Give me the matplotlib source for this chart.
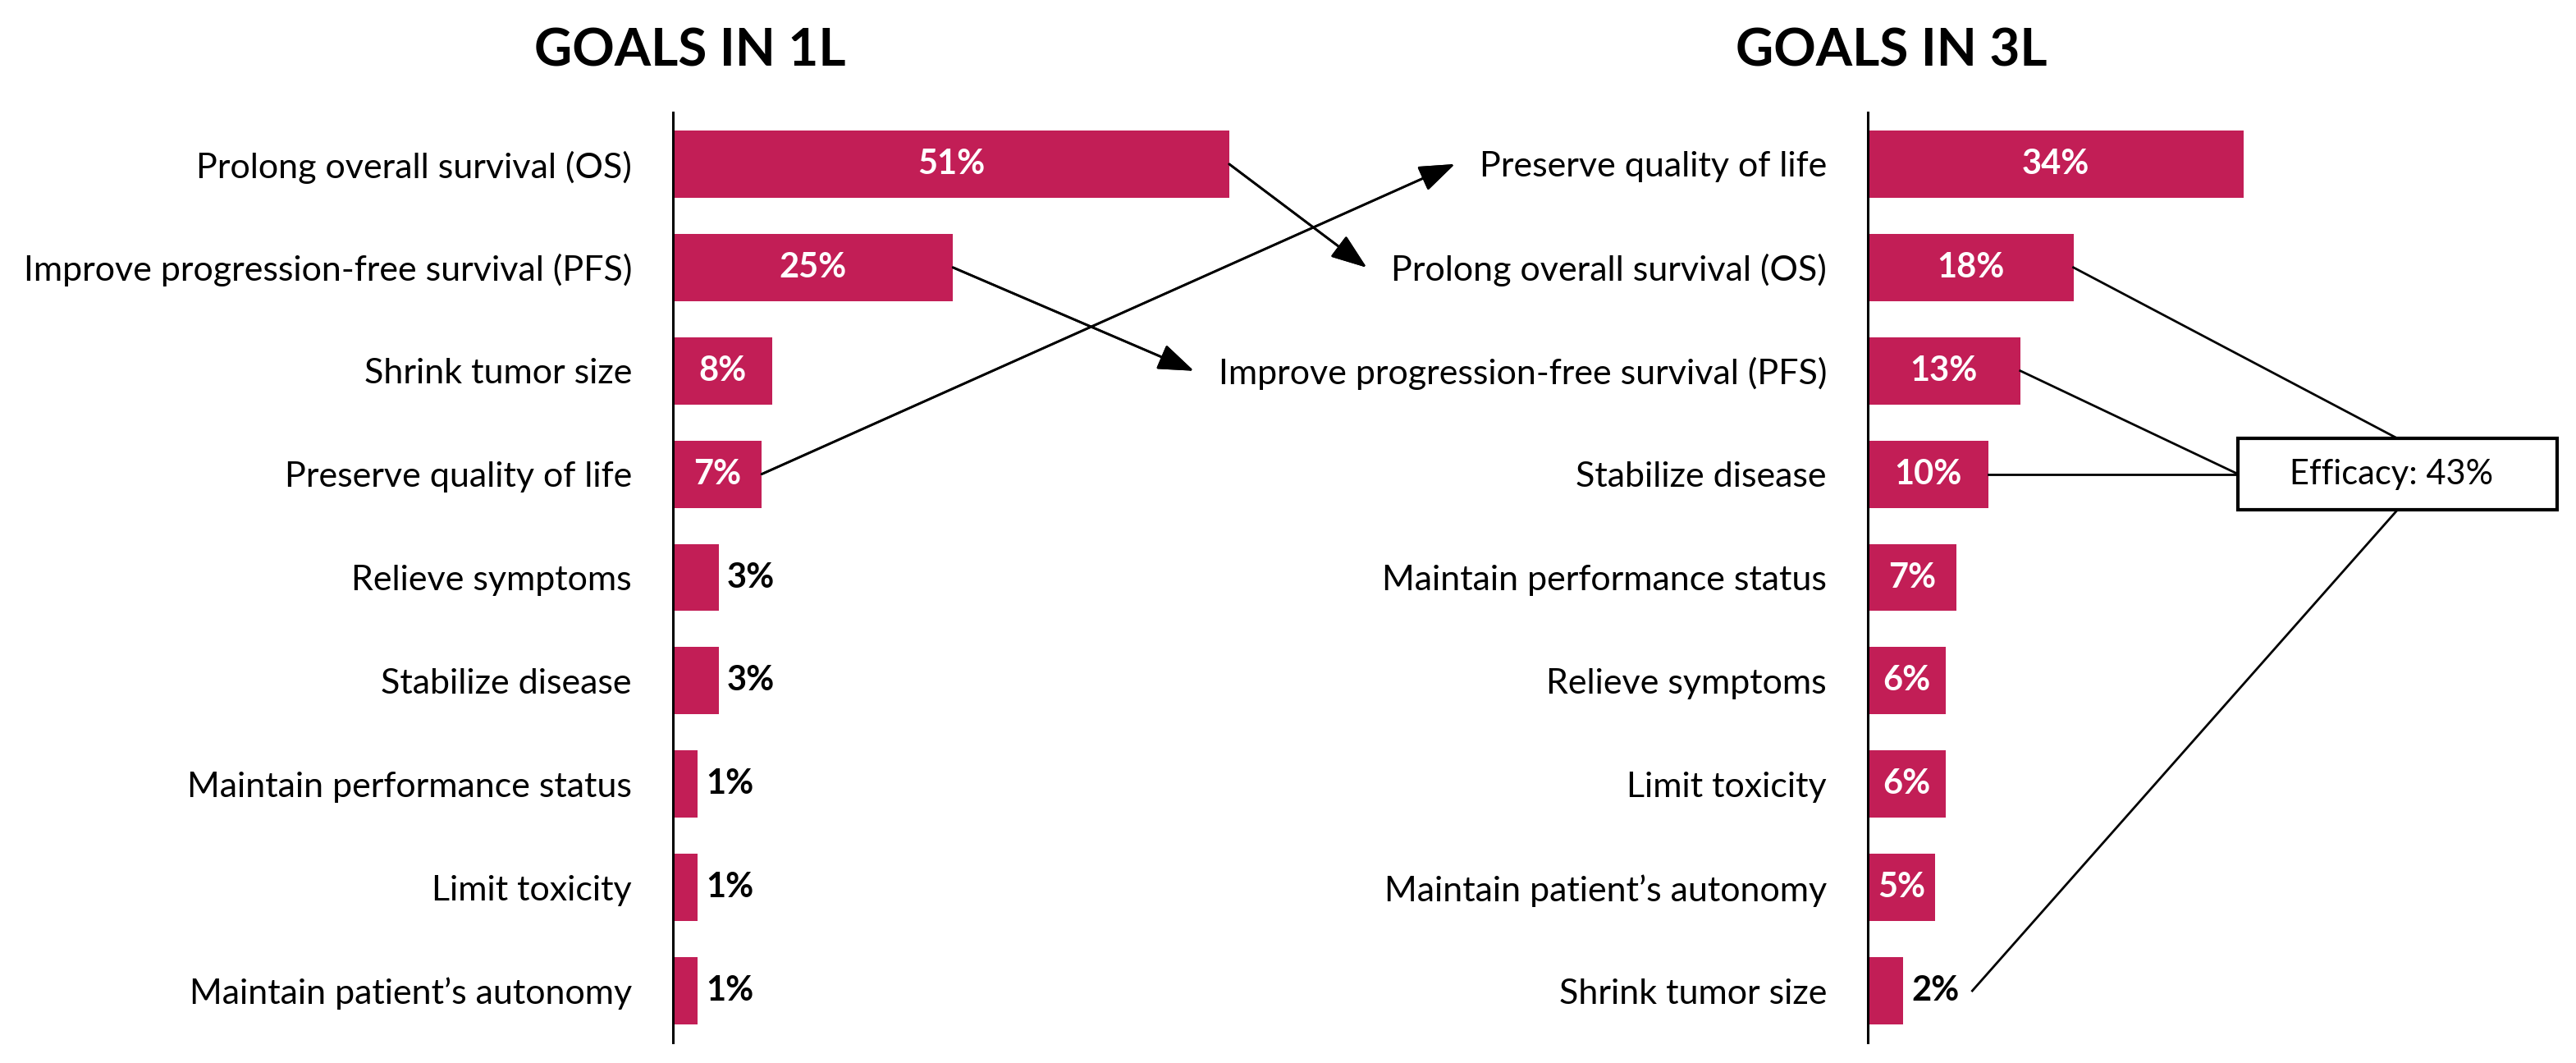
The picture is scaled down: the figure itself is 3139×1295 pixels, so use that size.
import matplotlib
matplotlib.use("Agg")
import matplotlib.pyplot as plt
from matplotlib.patches import Rectangle

# data
goals_1l = ["Prolong overall survival (OS)", "Improve progression-free survival (PFS)",
            "Shrink tumor size", "Preserve quality of life", "Relieve symptoms",
            "Stabilize disease", "Maintain performance status", "Limit toxicity",
            "Maintain patient\u2019s autonomy"]
pct_1l = [51, 25, 8, 7, 3, 3, 1, 1, 1]

goals_3l = ["Preserve quality of life", "Prolong overall survival (OS)",
            "Improve progression-free survival (PFS)", "Stabilize disease",
            "Maintain performance status", "Relieve symptoms", "Limit toxicity",
            "Maintain patient\u2019s autonomy", "Shrink tumor size"]
pct_3l = [34, 18, 13, 10, 7, 6, 6, 5, 2]

efficacy_label = "Efficacy: 43%"
efficacy_items = ["Prolong overall survival (OS)", "Improve progression-free survival (PFS)",
                  "Stabilize disease", "Shrink tumor size"]

BAR = "#C21E56"
plt.rcParams["font.family"] = ["Lato", "DejaVu Sans"]

W, H = 3139, 1295
fig = plt.figure(figsize=(W / 100, H / 100), dpi=100)

px_per_pct = 12.95
xmin, xmax = -1.35, 65
ax_w = (xmax - xmin) * px_per_pct / W
ax_b = 1 - 1270 / H
ax_h = 1133 / H
ax1 = fig.add_axes([820 / W, ax_b, ax_w, ax_h])
ax2 = fig.add_axes([2276 / W, ax_b, ax_w, ax_h])


def draw_panel(ax, labels, vals, title, title_x):
    y = list(range(len(labels)))
    # bars start at the axis line (Excel-style axis slightly below zero)
    ax.barh(y, [v - xmin for v in vals], left=xmin, height=0.65, color=BAR, clip_on=False)
    ax.set_xlim(xmin, xmax)
    ax.set_ylim(len(labels) - 0.5, -0.5)
    ax.set_yticks(y)
    ax.set_yticklabels(labels, fontsize=31)
    ax.tick_params(axis="y", length=0, pad=36)
    ax.set_xticks([])
    for s in ["top", "right", "bottom"]:
        ax.spines[s].set_visible(False)
    ax.spines["left"].set_linewidth(2.2)
    texts = []
    for yi, v in zip(y, vals):
        if v >= 4:
            t = ax.text((v + xmin) / 2, yi, f"{v}%", ha="center", va="center", color="white",
                        fontsize=30, fontweight="bold")
        else:
            t = ax.text(v + 0.75, yi, f"{v}%", ha="left", va="center", color="black",
                        fontsize=30, fontweight="bold", clip_on=False)
        texts.append(t)
    fig.text(title_x / W, 1 - 62 / H, title, ha="center", va="center",
             fontsize=46, fontweight="bold")
    return texts


lab1 = draw_panel(ax1, goals_1l, pct_1l, "GOALS IN 1L", 841)
lab2 = draw_panel(ax2, goals_3l, pct_3l, "GOALS IN 3L", 2305)

fig.canvas.draw()
renderer = fig.canvas.get_renderer()

# arrows from 1L bars to the same goal in 3L
ticklabels2 = ax2.get_yticklabels()
for i, name in enumerate(goals_1l):
    if name not in goals_3l[:3]:
        continue
    j = goals_3l.index(name)
    bb = ticklabels2[j].get_window_extent(renderer)
    row_y = ax2.transData.transform((0, j))[1]
    tip = (bb.x0 - 30, row_y)
    start = ax1.transData.transform((pct_1l[i], i))
    fig.add_artist(plt.annotate("", xy=tip, xycoords="figure pixels",
                                xytext=start, textcoords="figure pixels",
                                arrowprops=dict(arrowstyle="-|>,head_length=0.6,head_width=0.22",
                                                color="black", lw=2,
                                                mutation_scale=45, shrinkA=0, shrinkB=0)))

# efficacy box
bx0, bx1 = 33.5, 63.5
brow = goals_3l.index("Stabilize disease")
bh = 0.345
ax2.add_patch(Rectangle((bx0, brow - bh), bx1 - bx0, 2 * bh, fc="white", ec="black",
                        lw=3, clip_on=False, zorder=3))
ax2.text((bx0 + bx1) / 2 - 0.6, brow, efficacy_label, ha="center", va="center",
         fontsize=30, zorder=4, clip_on=False)
bcx = (bx0 + bx1) / 2
for name in efficacy_items:
    j = goals_3l.index(name)
    v = pct_3l[j]
    if v >= 4:
        sx = v
    else:
        bb = lab2[j].get_window_extent(renderer)
        sx = ax2.transData.inverted().transform((bb.x1 + 16, 0))[0]
    if j == 1:
        end = (bcx, brow - bh)
    elif j <= brow:
        end = (bx0, brow)
    else:
        end = (bcx, brow + bh)
    ax2.plot([sx, end[0]], [j, end[1]], color="black", lw=2, clip_on=False, zorder=2)

fig.savefig("out.png", dpi=100)
